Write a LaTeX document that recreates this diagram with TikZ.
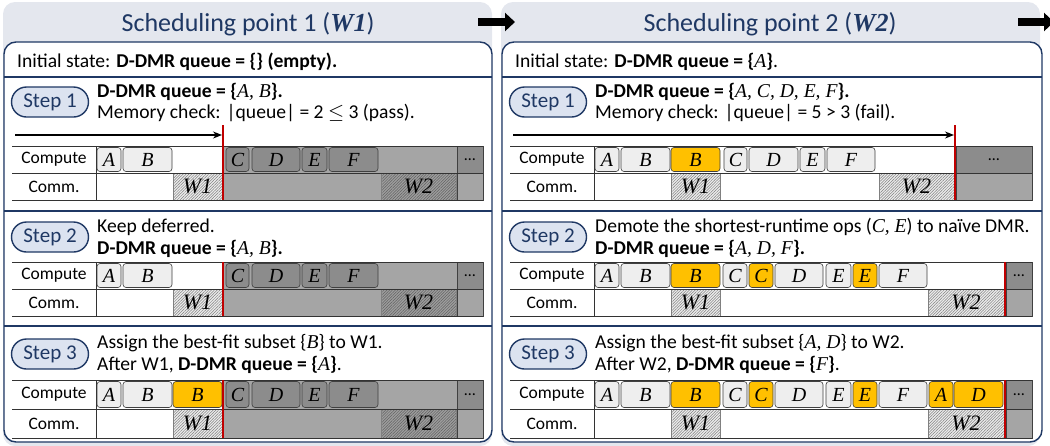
\documentclass[tikz,border=0pt]{standalone}
\usepackage{fontspec}
\setmainfont{Carlito}
\newfontfamily\serif{Liberation Serif}
\usetikzlibrary{patterns.meta,shapes.misc,arrows.meta}
\definecolor{navy}{HTML}{1F3864}
\definecolor{panelbg}{HTML}{E4E7EE}
\definecolor{pillc}{HTML}{DCE3F0}
\definecolor{lightbox}{HTML}{EEEEEE}
\definecolor{darkbox}{HTML}{8C8C8C}
\definecolor{grayreg}{HTML}{A5A5A5}
\definecolor{orangec}{HTML}{FFC000}
\definecolor{redc}{HTML}{C00000}
\definecolor{boxline}{HTML}{404040}
\newcommand\vi[1]{{\serif\itshape #1}}
% name, x1, x2, ytop, ybot, style, text
\newcommand\opb[7]{\node[#6,minimum width={(#3)-(#2)},minimum height={(#5)-(#4)}] (#1) at ({((#2)+(#3))/2},{((#4)+(#5))/2}) {#7};}
% table frame: prefix, ct, cm, cb, xright
\newcommand\tbl[5]{%
 \node[lbl] (#1cl) at (54,{((#2)+(#3))/2}) {Compute};
 \node[lbl] (#1ml) at (54,{((#3)+(#4))/2}) {Comm.};
 \draw[tline] (12,#2) -- (#5,#2) (12,#3) -- (#5,#3) (12,#4) -- (#5,#4) (96,#2) -- (96,#4);
}
% panel 1 table
\newcommand\pone[4]{%
 \fill[grayreg] (224,#2) rectangle (457,#4);
 \opb{#1dc}{457}{483}{#2}{#3}{dotb}{\dots}
 \opb{#1dm}{457}{483}{#3}{#4}{grayb}{}
 \opb{#1w1}{173}{222}{#3}{#4}{hatchL}{W1}
 \opb{#1w2}{381}{456}{#3}{#4}{hatchD}{W2}
 \opb{#1A}{97}{121}{#2+1.5}{#3-1.5}{lb}{A}
 \opb{#1B}{123}{172}{#2+1.5}{#3-1.5}{lb}{B}
 \opb{#1C}{226}{249}{#2+1.5}{#3-1.5}{db}{C}
 \opb{#1D}{252}{300}{#2+1.5}{#3-1.5}{db}{D}
 \opb{#1E}{302}{327}{#2+1.5}{#3-1.5}{db}{E}
 \opb{#1F}{329}{378}{#2+1.5}{#3-1.5}{db}{F}
 \tbl{#1}{#2}{#3}{#4}{483}
}
% panel 2 common left part: prefix ct cm cb
\newcommand\ptwoleft[4]{%
 \opb{#1w1}{173}{222}{#3}{#4}{hatchL}{W1}
 \opb{#1A}{97}{121}{#2+1.5}{#3-1.5}{lb}{A}
 \opb{#1B}{123}{172}{#2+1.5}{#3-1.5}{lb}{B}
 \opb{#1Bo}{173}{222}{#2+1.5}{#3-1.5}{ob}{B}
}
\newcommand\ptwotwo[4]{%
 \ptwoleft{#1}{#2}{#3}{#4}
 \opb{#1C}{225}{249}{#2+1.5}{#3-1.5}{lb}{C}
 \opb{#1Co}{251}{275}{#2+1.5}{#3-1.5}{ob}{C}
 \opb{#1D}{277}{325}{#2+1.5}{#3-1.5}{lb}{D}
 \opb{#1E}{328}{353}{#2+1.5}{#3-1.5}{lb}{E}
 \opb{#1Eo}{355}{379}{#2+1.5}{#3-1.5}{ob}{E}
 \opb{#1F}{381}{429}{#2+1.5}{#3-1.5}{lb}{F}
 \opb{#1w2}{430}{506}{#3}{#4}{hatchL}{W2}
 \opb{#1dc}{508}{534}{#2}{#3}{dotb}{\dots}
 \opb{#1dm}{508}{534}{#3}{#4}{grayb}{}
 \tbl{#1}{#2}{#3}{#4}{534}
}
\begin{document}
\begin{tikzpicture}[x=1pt,y=-1pt,
 txt/.style={anchor=base west,inner sep=0pt,font=\fontsize{19.6}{22}\selectfont},
 title/.style={inner sep=0pt,text=navy,font=\fontsize{26}{30}\selectfont},
 lbl/.style={inner sep=0pt,font=\fontsize{17.5}{20}\selectfont},
 pill/.style={rounded rectangle,draw=navy,line width=1.4pt,fill=pillc,text=navy,minimum width=77pt,minimum height=30pt,inner sep=0pt,font=\fontsize{21}{24}\selectfont},
 boxbase/.style={inner sep=0pt,outer sep=0pt,font=\serif\itshape\fontsize{20}{20}\selectfont},
 lb/.style={boxbase,draw=boxline,line width=0.6pt,fill=lightbox,rounded corners=3pt},
 db/.style={lb,fill=darkbox},
 ob/.style={lb,fill=orangec},
 dotb/.style={inner sep=0pt,outer sep=0pt,draw=boxline,line width=0.6pt,fill=darkbox,font=\fontsize{16}{18}\selectfont},
 grayb/.style={inner sep=0pt,outer sep=0pt,draw=boxline,line width=0.6pt,fill=grayreg},
 hatchL/.style={boxbase,draw=gray,line width=0.4pt,preaction={fill=white!85!gray},pattern={Lines[angle=45,distance=2pt,line width=0.5pt]},pattern color=black!50,font=\serif\itshape\fontsize{22}{22}\selectfont},
 hatchD/.style={hatchL,preaction={fill=black!38},pattern color=black!62},
 tline/.style={draw=black!80,line width=0.7pt},
 sep/.style={draw=navy,line width=1.4pt},
 redline/.style={draw=redc,line width=2.6pt},
 tarrow/.style={draw=black,line width=1.4pt,-{Stealth[length=9pt,width=7pt]}},
 bigarrow/.style={draw=black,line width=8pt,-{Triangle[length=10pt,width=18pt]}}
]
\useasboundingbox (0,0) rectangle (1050,445);
\clip (0,0) rectangle (1050,445);
% panel backgrounds
\fill[panelbg,rounded corners=12pt] (3,2) rectangle (492,446);
\fill[panelbg,rounded corners=12pt] (501,2) rectangle (1040,446);
\node[title] (t1) at (248,24) {Scheduling point 1 (\textbf{\vi{W1}})};
\node[title] (t2) at (770,24) {Scheduling point 2 (\textbf{\vi{W2}})};
% inner boxes
\draw[sep,fill=white,rounded corners=12pt] (4,42) rectangle (492,442);
\draw[sep,fill=white,rounded corners=12pt] (502,42) rectangle (1042,442);
\draw[sep] (4,77) -- (492,77) (4,211) -- (492,211) (4,326) -- (492,326);
\draw[sep] (502,77) -- (1042,77) (502,211) -- (1042,211) (502,326) -- (1042,326);
% big arrows
\coordinate (ba1s) at (478,22); \coordinate (ba1e) at (515,22);
\coordinate (ba2s) at (1018,22); \coordinate (ba2e) at (1054,22);
\draw[bigarrow] (ba1s) -- (ba1e);
\draw[bigarrow] (ba2s) -- (ba2e);
% ---------- panel 1 texts
\node[txt] (p1i) at (17,67) {Initial state: \textbf{D-DMR queue = \{\} (empty).}};
\node[pill] (p1p1) at (50,102) {Step 1};
\node[txt] (p1s1t1) at (97,97) {\textbf{D-DMR queue = \{}\vi{A, B}\textbf{\}.}};
\node[txt] (p1s1t2) at (97,118) {Memory check: |queue| = 2 $\leq$ 3 (pass).};
\node[pill] (p1p2) at (50,237) {Step 2};
\node[txt] (p1s2t1) at (97,232) {Keep deferred.};
\node[txt] (p1s2t2) at (97,254) {\textbf{D-DMR queue = \{}\vi{A, B}\textbf{\}.}};
\node[pill] (p1p3) at (50,354) {Step 3};
\node[txt] (p1s3t1) at (97,348) {Assign the best-fit subset \{\vi{B}\} to W1.};
\node[txt] (p1s3t2) at (97,370) {After W1, \textbf{D-DMR queue = \{}\vi{A}\textbf{\}}.};
% panel 1 tables
\pone{p1s1}{146}{173}{200}
\pone{p1s2}{262}{289}{316}
\pone{p1s3}{380}{409}{438}
\opb{p1s3Bo}{173}{222}{380+1.5}{409-1.5}{ob}{B}
\coordinate (p1a0) at (15,135); \coordinate (p1a1) at (222,135);
\draw[tarrow] (p1a0) -- (p1a1);
\coordinate (p1r1a) at (223,125); \coordinate (p1r1b) at (223,200);
\coordinate (p1r2a) at (223,262); \coordinate (p1r2b) at (223,316);
\coordinate (p1r3a) at (223,380); \coordinate (p1r3b) at (223,438);
\draw[redline] (p1r1a) -- (p1r1b) (p1r2a) -- (p1r2b) (p1r3a) -- (p1r3b);
% ---------- panel 2 texts
\node[txt] (p2i) at (515,67) {Initial state: \textbf{D-DMR queue = \{}\vi{A}\textbf{\}}.};
\node[pill] (p2p1) at (548,102) {Step 1};
\node[txt] (p2s1t1) at (595,97) {\textbf{D-DMR queue = \{}\vi{A, C, D, E, F}\textbf{\}.}};
\node[txt] (p2s1t2) at (595,118) {Memory check: |queue| = 5 > 3 (fail).};
\node[pill] (p2p2) at (548,237) {Step 2};
\node[txt] (p2s2t1) at (595,232) {Demote the shortest-runtime ops (\vi{C, E}) to naïve DMR.};
\node[txt] (p2s2t2) at (595,254) {\textbf{D-DMR queue = \{}\vi{A, D, F}\textbf{\}.}};
\node[pill] (p2p3) at (548,354) {Step 3};
\node[txt] (p2s3t1) at (595,348) {Assign the best-fit subset \{\vi{A, D}\} to W2.};
\node[txt] (p2s3t2) at (595,370) {After W2, \textbf{D-DMR queue = \{}\vi{F}\textbf{\}}.};
\begin{scope}[xshift=498pt]
 % step 1
 \ptwoleft{p2s1}{146}{173}{200}
 \opb{p2s1C}{226}{249}{147.5}{171.5}{lb}{C}
 \opb{p2s1D}{251}{300}{147.5}{171.5}{lb}{D}
 \opb{p2s1E}{302}{327}{147.5}{171.5}{lb}{E}
 \opb{p2s1F}{329}{377}{147.5}{171.5}{lb}{F}
 \opb{p2s1w2}{381}{456}{173}{200}{hatchL}{W2}
 \opb{p2s1dc}{458}{534}{146}{173}{dotb}{\dots}
 \opb{p2s1dm}{458}{534}{173}{200}{grayb}{}
 \tbl{p2s1}{146}{173}{200}{534}
 % step 2
 \ptwotwo{p2s2}{262}{289}{316}
 % step 3
 \ptwotwo{p2s3}{380}{409}{438}
 \opb{p2s3Ao}{431}{455}{381.5}{407.5}{ob}{A}
 \opb{p2s3Do}{456}{505}{381.5}{407.5}{ob}{D}
 \coordinate (p2a0) at (15,135); \coordinate (p2a1) at (456,135);
 \draw[tarrow] (p2a0) -- (p2a1);
 \coordinate (p2r1a) at (457,125); \coordinate (p2r1b) at (457,200);
 \coordinate (p2r2a) at (507,262); \coordinate (p2r2b) at (507,316);
 \coordinate (p2r3a) at (507,380); \coordinate (p2r3b) at (507,438);
 \draw[redline] (p2r1a) -- (p2r1b) (p2r2a) -- (p2r2b) (p2r3a) -- (p2r3b);
\end{scope}
\end{tikzpicture}
\end{document}
